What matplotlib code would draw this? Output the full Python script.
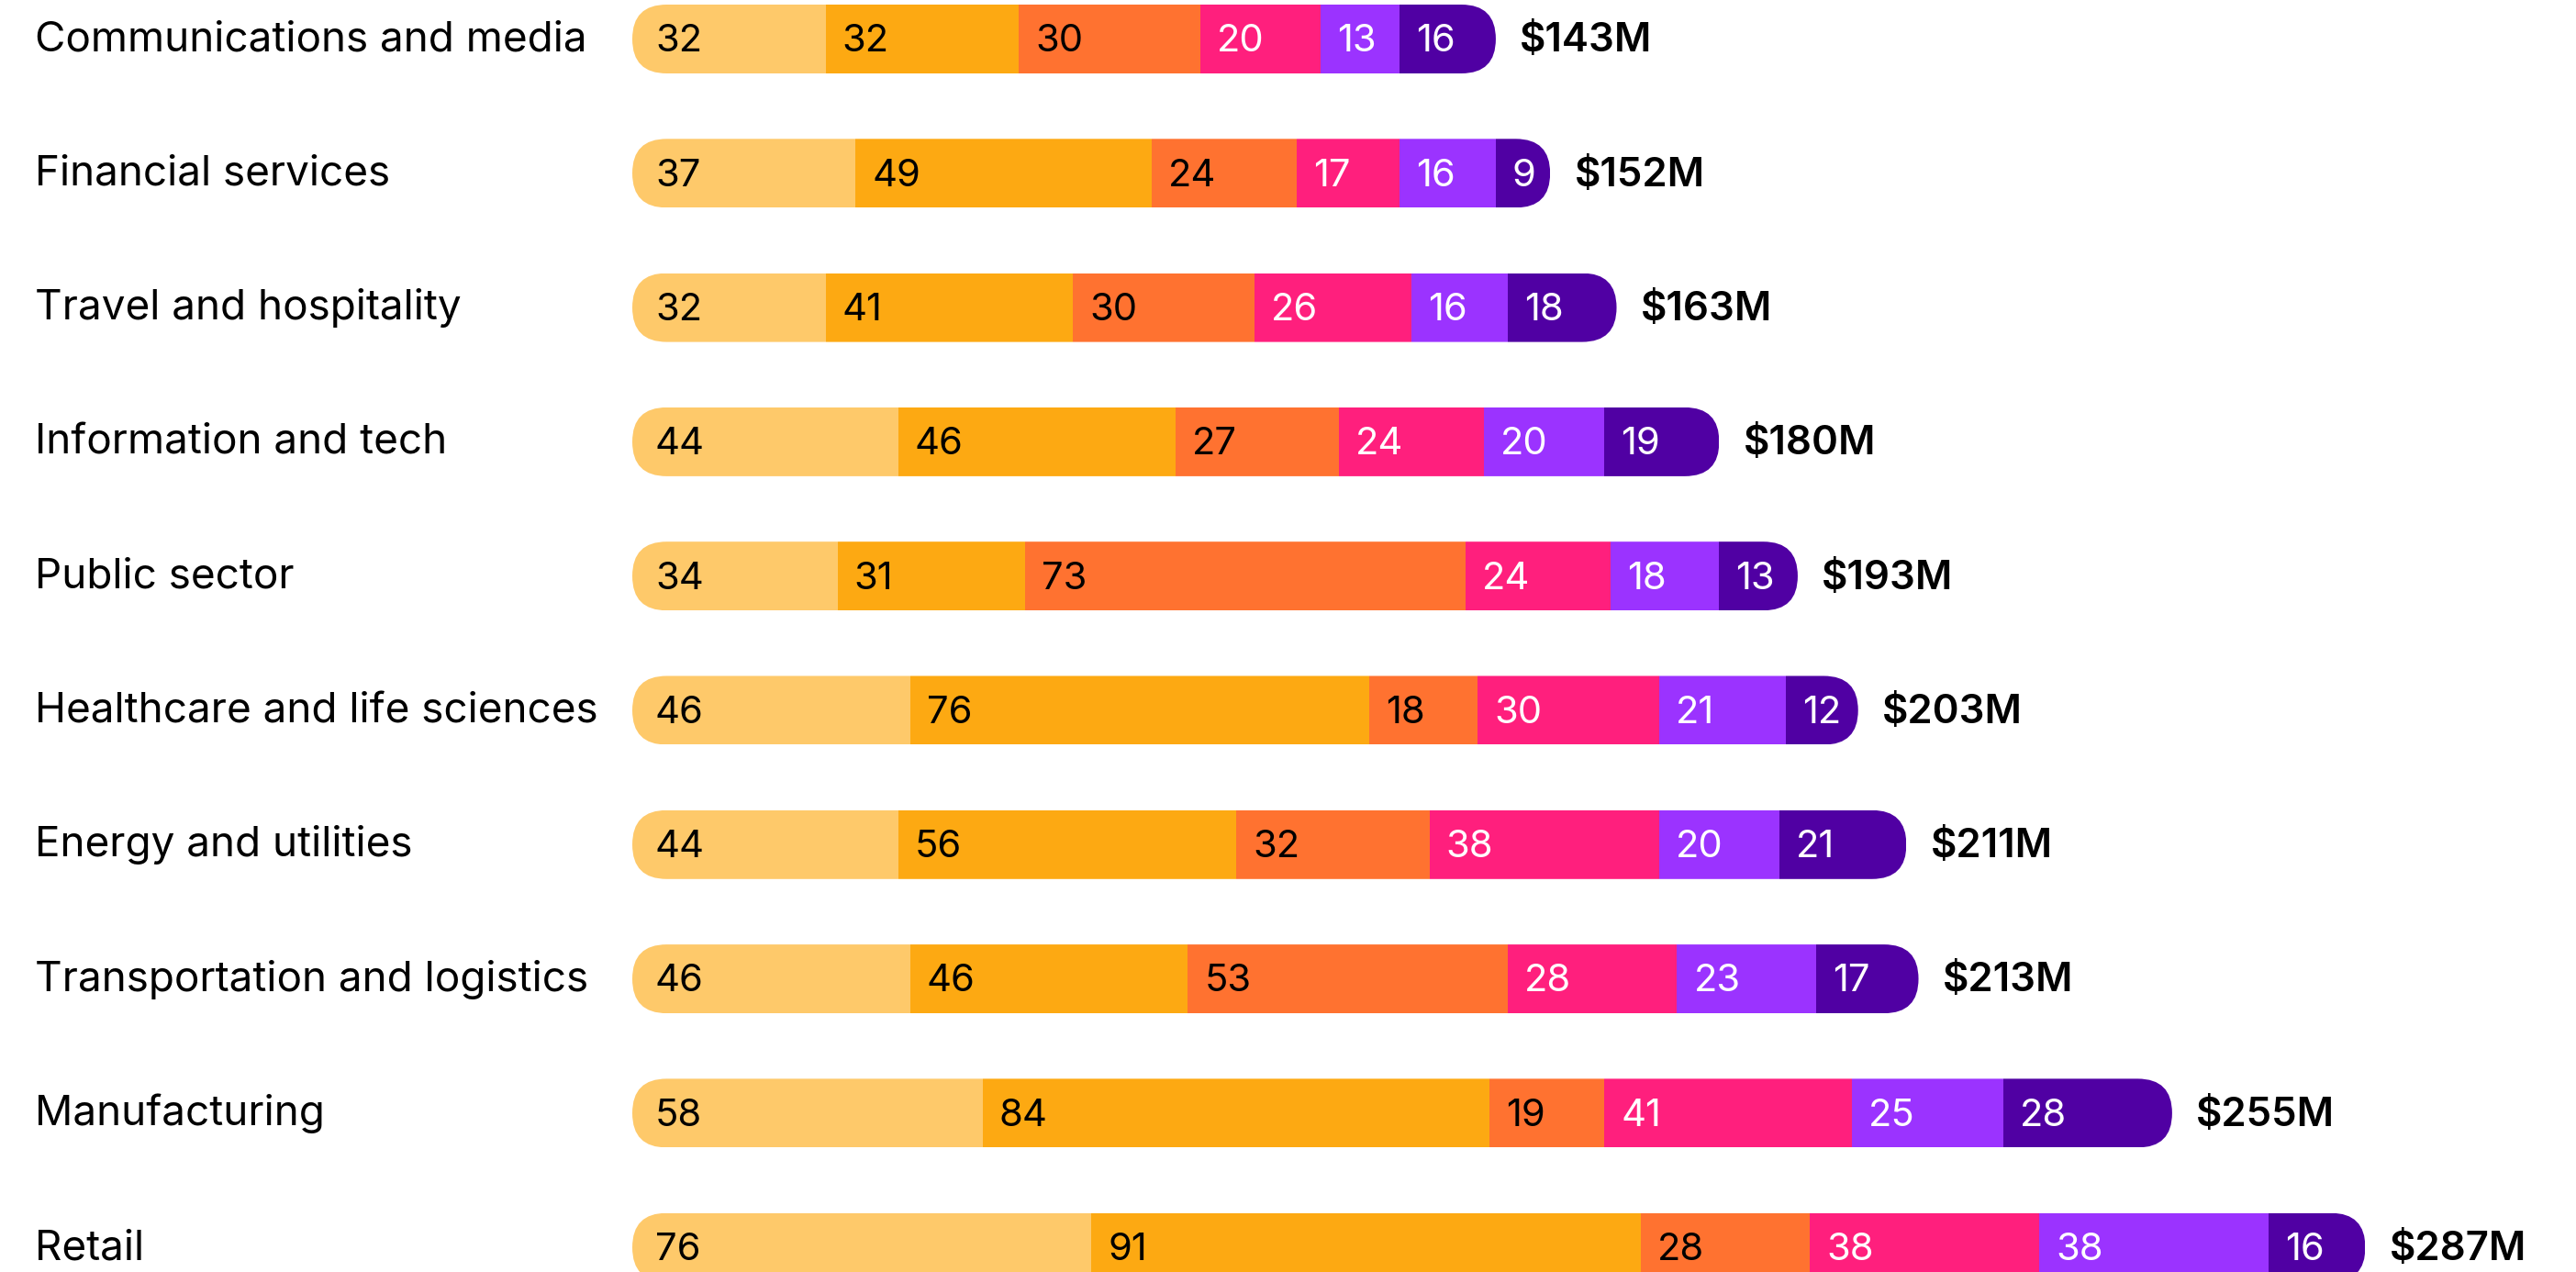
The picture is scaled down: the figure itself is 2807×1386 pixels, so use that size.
import matplotlib
matplotlib.use('Agg')

import matplotlib.pyplot as plt
from matplotlib.patches import FancyBboxPatch
from matplotlib.transforms import blended_transform_factory
import numpy as np

plt.rcParams['font.family'] = ['Inter', 'DejaVu Sans']

# ========== data ==========
categories = ['Communications and media', 'Financial services', 'Travel and hospitality',
              'Information and tech', 'Public sector', 'Healthcare and life sciences',
              'Energy and utilities', 'Transportation and logistics', 'Manufacturing', 'Retail']
seg_1 = [32, 37, 32, 44, 34, 46, 44, 46, 58, 76]
seg_2 = [32, 49, 41, 46, 31, 76, 56, 46, 84, 91]
seg_3 = [30, 24, 30, 27, 73, 18, 32, 53, 19, 28]
seg_4 = [20, 17, 26, 24, 24, 30, 38, 28, 41, 38]
seg_5 = [13, 16, 16, 20, 18, 21, 20, 23, 25, 38]
seg_6 = [16, 9, 18, 19, 13, 12, 21, 17, 28, 16]
totals = [143, 152, 163, 180, 193, 203, 211, 213, 255, 287]

# ========== style ==========
colors = ['#FEC96A', '#FDA912', '#FF7230', '#FF1F7D', '#9B33FF', '#5000A3']
text_colors = ['black', 'black', 'black', 'white', 'white', 'white']

W, H = 2807, 1386
BAR_LEFT_PX = 689
PX_PER_UNIT = 6.58
ROW0_PX = 42.5
ROW_STEP_PX = 146.3
BAR_H_PX = 75
LABEL_X_PX = 38

fig = plt.figure(figsize=(W / 100, H / 100), dpi=100)
ax = fig.add_axes([0, 0, 1, 1])
ax.axis('off')

ax.set_xlim(-BAR_LEFT_PX / PX_PER_UNIT, (W - BAR_LEFT_PX) / PX_PER_UNIT)
ax.set_ylim((H - ROW0_PX) / ROW_STEP_PX, -ROW0_PX / ROW_STEP_PX)

bar_h = BAR_H_PX / ROW_STEP_PX
aspect = PX_PER_UNIT / ROW_STEP_PX  # y units per x unit at equal pixels
radius = BAR_H_PX / 2 / PX_PER_UNIT

segments = np.array([seg_1, seg_2, seg_3, seg_4, seg_5, seg_6])
y = np.arange(len(categories))
lefts = np.vstack([np.zeros(len(categories)), np.cumsum(segments, axis=0)[:-1]])

label_tr = blended_transform_factory(ax.transAxes, ax.transData)

for i in range(len(categories)):
    # rounded outline used to clip the stacked pieces of one row
    clip = FancyBboxPatch((0, y[i] - bar_h / 2), totals[i], bar_h,
                          boxstyle=f'round,pad=0,rounding_size={radius}',
                          mutation_aspect=aspect, transform=ax.transData,
                          facecolor='none', edgecolor='none')
    ax.add_patch(clip)
    for j in range(segments.shape[0]):
        bars = ax.barh(y[i], segments[j, i], left=lefts[j, i], height=bar_h,
                       color=colors[j], linewidth=0)
        for b in bars:
            b.set_clip_path(clip)
        dx = 18 if j == 0 else 13
        ax.annotate(str(segments[j, i]), (lefts[j, i], y[i]), xytext=(dx, -10),
                    textcoords='offset points', ha='left', va='baseline',
                    fontsize=30, color=text_colors[j])
    ax.annotate(f'${totals[i]}M', (totals[i], y[i]), xytext=(19, -10),
                textcoords='offset points', ha='left', va='baseline',
                fontsize=31.5, fontweight='semibold', color='black')
    ax.annotate(categories[i], (LABEL_X_PX / W, y[i]), xycoords=label_tr,
                xytext=(0, -9.5), textcoords='offset points', ha='left', va='baseline',
                fontsize=33, color='black')

plt.savefig('out.png', dpi=100)
plt.close()
